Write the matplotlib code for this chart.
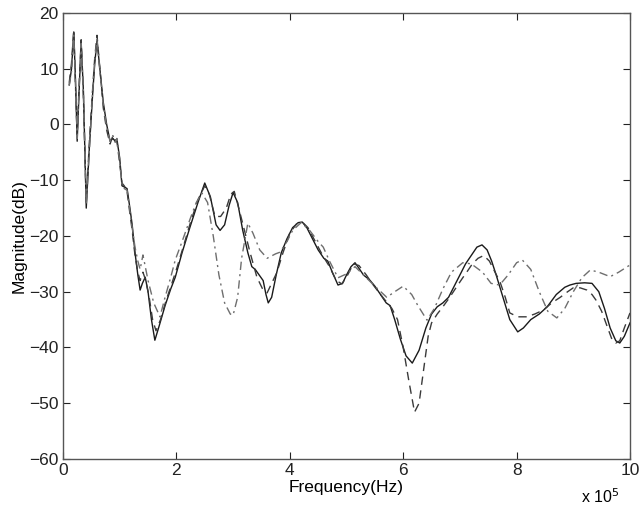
import numpy as np
import matplotlib.pyplot as plt

plt.rcParams['font.family'] = ['Liberation Sans', 'DejaVu Sans']

# frequency in units of 1e5 Hz
f_solid = [0.11, 0.15, 0.19, 0.22, 0.25, 0.28, 0.32, 0.36, 0.41, 0.46, 0.52, 0.56, 0.60, 0.65,
           0.71, 0.77, 0.83, 0.88, 0.92, 0.95, 1.00, 1.04, 1.08, 1.13, 1.18, 1.22, 1.27, 1.32,
           1.36, 1.40, 1.45, 1.50, 1.56, 1.62, 1.70, 1.80, 1.90, 1.98, 2.10, 2.24, 2.38, 2.50,
           2.60, 2.70, 2.77, 2.85, 2.93, 3.00, 3.08, 3.17, 3.26, 3.33, 3.39, 3.46, 3.53, 3.58,
           3.62, 3.68, 3.76, 3.85, 3.95, 4.05, 4.15, 4.22, 4.30, 4.40, 4.50, 4.60, 4.67, 4.75,
           4.85, 4.93, 5.00, 5.08, 5.15, 5.22, 5.30, 5.41, 5.50, 5.60, 5.70, 5.77, 5.85, 5.95,
           6.05, 6.16, 6.28, 6.40, 6.50, 6.60, 6.70, 6.80, 6.90, 7.00, 7.10, 7.20, 7.30, 7.39,
           7.48, 7.56, 7.64, 7.76, 7.88, 8.02, 8.12, 8.25, 8.40, 8.54, 8.70, 8.85, 8.94, 9.05,
           9.20, 9.33, 9.45, 9.55, 9.65, 9.75, 9.82, 9.90, 10.0]
mag_solid = [7.1, 10, 16.6, 8, -3, 5, 14.8, 6, -15, -5, 5, 11, 15, 10,
             4, 0, -3, -2.5, -3, -2.6, -6, -11, -11.2, -11.5, -15, -18, -23, -27,
             -29.7, -28.5, -27.4, -30, -35, -38.7, -36, -32.5, -29.5, -27.4, -23, -18.4, -14, -10.5,
             -13, -18, -19, -18, -14.5, -12.2, -14, -19, -23, -25.5, -26, -27, -28, -30.5,
             -32, -31, -27, -23, -20.5, -18.5, -17.6, -17.5, -18.5, -20.5, -22.5, -24, -24.5, -26.5,
             -28.8, -28.5, -27, -25.5, -24.8, -25.8, -27, -27.9, -29, -30.5, -32, -32.5, -35, -38.5,
             -41.5, -42.8, -40.5, -36.5, -34, -32.7, -32, -31, -29, -27, -25, -23.5, -22, -21.6,
             -22.5, -24.5, -27, -31, -35, -37.2, -36.5, -35, -34, -32.7, -30.5, -29.2, -28.8, -28.5,
             -28.4, -28.5, -30, -33, -36.5, -38.8, -39.2, -38, -35.6]

f_dash = [0.11, 0.15, 0.19, 0.22, 0.25, 0.28, 0.32, 0.36, 0.41, 0.46, 0.52, 0.56, 0.60, 0.65,
          0.71, 0.77, 0.83, 0.88, 0.92, 0.95, 1.00, 1.04, 1.08, 1.13, 1.18, 1.22, 1.27, 1.32,
          1.36, 1.41, 1.46, 1.52, 1.58, 1.64, 1.72, 1.82, 1.92, 2.00, 2.12, 2.25, 2.38, 2.50,
          2.58, 2.68, 2.78, 2.88, 2.96, 3.02, 3.10, 3.20, 3.30, 3.42, 3.52, 3.60, 3.68, 3.77,
          3.88, 4.00, 4.12, 4.22, 4.32, 4.45, 4.58, 4.70, 4.82, 4.92, 5.02, 5.12, 5.22, 5.35,
          5.45, 5.54, 5.64, 5.72, 5.80, 5.90, 6.00, 6.10, 6.20, 6.28, 6.36, 6.44, 6.50, 6.60,
          6.70, 6.82, 6.95, 7.05, 7.12, 7.22, 7.32, 7.42, 7.52, 7.62, 7.71, 7.80, 7.88, 8.02,
          8.18, 8.32, 8.47, 8.62, 8.77, 8.90, 9.00, 9.12, 9.24, 9.33, 9.40, 9.50, 9.60, 9.68,
          9.75, 9.82, 9.90, 10.0]
mag_dash = [7.5, 11, 17, 7, -2, 6, 15.2, 5, -14, -4, 6, 12, 16, 10,
            3, -1, -3.5, -2, -2.8, -3, -7, -10.5, -11, -12, -16, -19, -23.5, -26.5,
            -28, -26.5, -28, -31, -35, -37, -35, -31.5, -28.5, -26, -22, -17.5, -13.5, -11,
            -12.5, -16.5, -16.5, -15, -12.5, -12, -15, -19, -23, -27.4, -29.5, -30.2, -28.5, -26.6,
            -23, -19.5, -17.8, -17.5, -18.5, -21, -23.5, -25.5, -28, -28.6, -27, -25, -25.3, -27,
            -28.5, -29.7, -31, -32, -33, -35, -40, -46, -51.6, -50, -44, -38, -35.6, -34,
            -32.7, -31, -29, -27.5, -26.5, -25, -24, -23.5, -24.5, -26.5, -28.3, -31, -33.8, -34.5,
            -34.5, -34, -33.3, -32, -31, -30, -29.3, -29.3, -29.7, -30.5, -31.5, -33.5, -36.3, -38.5,
            -39.2, -38.8, -36.5, -33.8]

f_dashdot = [0.11, 0.15, 0.19, 0.22, 0.25, 0.28, 0.32, 0.36, 0.41, 0.46, 0.52, 0.56, 0.60, 0.65,
             0.71, 0.77, 0.83, 0.88, 0.92, 0.95, 1.00, 1.04, 1.08, 1.13, 1.18, 1.22, 1.27, 1.32,
             1.36, 1.41, 1.50, 1.60, 1.71, 1.80, 1.90, 1.98, 2.10, 2.24, 2.35, 2.45, 2.55, 2.65,
             2.75, 2.85, 2.95, 3.00, 3.08, 3.15, 3.26, 3.35, 3.47, 3.60, 3.75, 3.83, 3.95, 4.05,
             4.20, 4.35, 4.50, 4.59, 4.70, 4.85, 5.00, 5.15, 5.30, 5.50, 5.71, 5.85, 6.00, 6.15,
             6.26, 6.42, 6.55, 6.70, 6.85, 7.05, 7.20, 7.40, 7.55, 7.70, 7.85, 8.00, 8.10, 8.25,
             8.40, 8.55, 8.71, 8.85, 9.00, 9.15, 9.30, 9.45, 9.65, 9.80, 10.0]
mag_dashdot = [7, 9.5, 16, 7.5, -2.5, 5.5, 14.5, 5.5, -14.5, -5.5, 5.5, 11.5, 15.5, 9.5,
               3.5, -0.5, -3, -2, -3.2, -2.5, -6.5, -10.8, -11.5, -11.8, -15.5, -18.5, -22, -24.5,
               -26, -23.4, -28, -32, -34.5, -31, -27.4, -24.3, -21, -17, -14, -12.3, -14, -20,
               -27, -32, -34, -34.2, -31, -24, -17.7, -19.5, -22.5, -24, -23.2, -22.9, -21, -19,
               -17.6, -19, -21, -22, -24.5, -27.5, -26.8, -25.5, -27, -29, -31, -30, -29, -30.5,
               -32.5, -35.1, -33, -29.5, -26.5, -24.8, -25, -26.5, -28.5, -28.8, -27, -24.8, -24.3, -26,
               -30, -33.5, -34.7, -33, -30, -27.5, -26.1, -26.5, -27.3, -26.5, -25.2]

fig = plt.figure(figsize=(6.39, 5.11), dpi=100)
ax = fig.add_axes([0.0986, 0.1018, 0.8873, 0.8728])

ax.plot(f_solid, mag_solid, '-', color='#1a1a1a', lw=1.0)
ax.plot(f_dash, mag_dash, color='#3a3a3a', lw=1.0, dashes=(6, 4))
ax.plot(f_dashdot, mag_dashdot, color='#6e6e6e', lw=1.0, dashes=(6, 3, 1.5, 3))

ax.set_xlim(0, 10)
ax.set_ylim(-60, 20)
ax.set_xticks([0, 2, 4, 6, 8, 10])
ax.set_yticks(np.arange(-60, 21, 10))
ax.tick_params(direction='in', length=5, width=0.8, top=True, right=True,
               labelsize=12.5, colors='#222222', pad=3)
for s in ax.spines.values():
    s.set_color('#555555')
    s.set_linewidth(1.0)

ax.set_xlabel('Frequency(Hz)', fontsize=12.5, labelpad=1)
ax.set_ylabel('Magnitude(dB)', fontsize=12.5, labelpad=2)
fig.text(0.91, 0.015, r'x 10$^5$', fontsize=11.5)

fig.savefig('out.png', dpi=100)
